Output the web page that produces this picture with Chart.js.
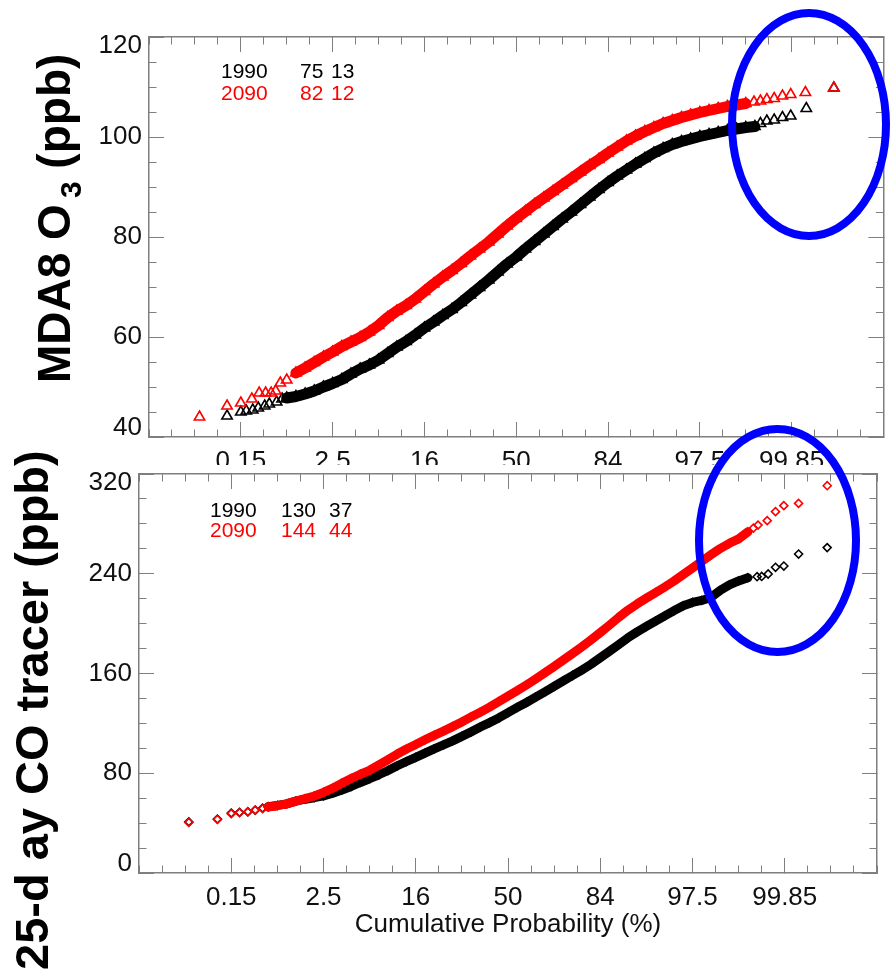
<!DOCTYPE html>
<html>
<head>
<meta charset="utf-8">
<script src="https://cdn.jsdelivr.net/npm/chart.js@4.4.1/dist/chart.umd.min.js"></script>
<style>
  html, body { margin: 0; padding: 0; background: #fff; }
  #wrap { position: relative; width: 891px; height: 969px; overflow: hidden; }
  #topChart, #bottomChart { position: absolute; left: 0; top: 0; }
</style>
</head>
<body>
<div id="wrap">
  <canvas id="topChart" width="891" height="465"></canvas>
  <canvas id="bottomChart" width="891" height="969"></canvas>
</div>
<script>
// x axis is in standard normal units, labelled as cumulative probability
const xTickSigma = [-3, -2, -1, 0, 1, 2, 3];
const xTickLabels = ['0.15', '2.5', '16', '50', '84', '97.5', '99.85'];
const o3Ticks = [40, 60, 80, 100, 120];
const coTicks = [0, 80, 160, 240, 320];

// MDA8 O3, 1990
const o3_1990_z = [-3.15, -3.00, -2.94, -2.87, -2.81, -2.74, -2.69, -2.61, -2.55,
  -2.5, -2.4, -2.3, -2.2, -2.1, -2.0, -1.9, -1.8, -1.7, -1.6, -1.5, -1.4, -1.3, -1.2, -1.1, -1.0,
  -0.9, -0.8, -0.7, -0.6, -0.5, -0.4, -0.3, -0.2, -0.1, 0.0, 0.1, 0.2, 0.3, 0.4, 0.5, 0.6,
  0.7, 0.8, 0.9, 1.0, 1.1, 1.2, 1.3, 1.4, 1.5, 1.6, 1.7, 1.8, 1.9, 2.0, 2.1, 2.2, 2.3, 2.4, 2.5, 2.6,
  2.66, 2.73, 2.81, 2.90, 2.99, 3.16, 3.46];
const o3_1990_ppb = [44.2, 45.0, 45.2, 45.4, 45.8, 46.2, 46.6, 47.0, 47.6,
  47.8, 48.1, 48.6, 49.2, 50.0, 50.7, 51.5, 52.6, 53.6, 54.4, 55.4, 56.7, 58.0, 59.1, 60.4, 61.8,
  63.0, 64.3, 65.5, 66.9, 68.4, 69.9, 71.4, 73.0, 74.6, 76.0, 77.6, 79.1, 80.6, 82.1, 83.6, 85.0,
  86.5, 88.0, 89.5, 90.9, 92.2, 93.4, 94.6, 95.7, 96.8, 97.7, 98.5, 99.1, 99.6, 100.1, 100.5, 100.9, 101.3, 101.6, 101.9, 102.1,
  102.7, 103.2, 103.4, 103.9, 104.2, 105.7, 109.8];

// MDA8 O3, 2090
const o3_2090_z = [-3.45, -3.15, -3.00, -2.88, -2.80, -2.73, -2.67, -2.62, -2.57, -2.50,
  -2.4, -2.3, -2.2, -2.1, -2.0, -1.9, -1.8, -1.7, -1.6, -1.5, -1.4, -1.3, -1.2, -1.1, -1.0,
  -0.9, -0.8, -0.7, -0.6, -0.5, -0.4, -0.3, -0.2, -0.1, 0.0, 0.1, 0.2, 0.3, 0.4, 0.5, 0.6,
  0.7, 0.8, 0.9, 1.0, 1.1, 1.2, 1.3, 1.4, 1.5, 1.6, 1.7, 1.8, 1.9, 2.0, 2.1, 2.2, 2.3, 2.4, 2.5,
  2.59, 2.66, 2.73, 2.81, 2.90, 2.99, 3.15, 3.46];
const o3_2090_ppb = [44.0, 46.2, 46.8, 47.6, 48.8, 48.8, 48.8, 49.2, 50.8, 51.4,
  52.8, 53.8, 54.9, 56.0, 57.0, 58.1, 59.0, 59.9, 61.0, 62.3, 63.9, 65.2, 66.3, 67.6, 69.1,
  70.6, 72.0, 73.3, 74.7, 76.2, 77.6, 79.0, 80.6, 82.2, 83.7, 85.1, 86.5, 87.8, 89.1, 90.4, 91.7,
  93.0, 94.3, 95.5, 96.8, 98.0, 99.2, 100.2, 101.1, 101.9, 102.7, 103.3, 103.9, 104.4, 104.9, 105.3, 105.7, 106.1, 106.4, 106.7,
  107.0, 107.2, 107.5, 107.7, 108.2, 108.5, 108.9, 109.8];

// 25-day CO tracer, 1990
const co_1990_z = [-3.46, -3.15, -3.00, -2.91, -2.82, -2.74, -2.66,
  -2.6, -2.5, -2.4, -2.3, -2.2, -2.1, -2.0, -1.9, -1.8, -1.7, -1.6, -1.5, -1.4, -1.3, -1.2, -1.1, -1.0,
  -0.9, -0.8, -0.7, -0.6, -0.5, -0.4, -0.3, -0.2, -0.1, 0.0, 0.1, 0.2, 0.3, 0.4, 0.5, 0.6,
  0.7, 0.8, 0.9, 1.0, 1.1, 1.2, 1.3, 1.4, 1.5, 1.6, 1.7, 1.8, 1.9, 2.0, 2.1, 2.2, 2.3, 2.4, 2.5, 2.6,
  2.70, 2.75, 2.82, 2.90, 2.99, 3.15, 3.46];
const co_1990_ppb = [41.0, 43.3, 48.1, 48.6, 49.0, 50.4, 52.0,
  53.2, 54.2, 55.4, 57.6, 59.2, 60.4, 61.8, 64.0, 66.6, 69.4, 72.6, 75.6, 78.8, 82.2, 86.0, 89.4, 92.8,
  96.2, 99.6, 102.8, 106.0, 109.6, 113.2, 117.0, 120.6, 124.4, 128.6, 132.8, 136.8, 141.0, 145.2, 149.6, 154.0,
  158.4, 162.8, 167.4, 172.6, 177.8, 183.2, 188.6, 193.4, 197.8, 202.0, 206.2, 210.4, 214.4, 217.0, 218.6, 221.0, 226.6, 231.0, 234.2, 236.8,
  237.6, 237.8, 239.8, 245.2, 246.2, 255.8, 261.0];

// 25-day CO tracer, 2090
const co_2090_z = [-3.46, -3.15, -3.00, -2.91, -2.82, -2.74, -2.66,
  -2.6, -2.5, -2.4, -2.3, -2.2, -2.1, -2.0, -1.9, -1.8, -1.7, -1.6, -1.5, -1.4, -1.3, -1.2, -1.1, -1.0,
  -0.9, -0.8, -0.7, -0.6, -0.5, -0.4, -0.3, -0.2, -0.1, 0.0, 0.1, 0.2, 0.3, 0.4, 0.5, 0.6,
  0.7, 0.8, 0.9, 1.0, 1.1, 1.2, 1.3, 1.4, 1.5, 1.6, 1.7, 1.8, 1.9, 2.0, 2.1, 2.2, 2.3, 2.4, 2.5, 2.6,
  2.66, 2.71, 2.81, 2.90, 2.99, 3.15, 3.46];
const co_2090_ppb = [40.6, 43.0, 47.6, 48.4, 49.2, 50.4, 51.6,
  53.0, 54.0, 55.4, 57.6, 59.6, 61.8, 64.6, 68.0, 72.0, 75.8, 79.2, 82.4, 86.6, 91.0, 95.4, 99.4, 103.0,
  106.8, 110.4, 113.8, 117.4, 121.2, 125.2, 129.0, 133.0, 137.4, 141.8, 146.2, 150.8, 155.6, 160.6, 165.6, 170.8,
  176.0, 181.4, 187.0, 192.8, 198.8, 205.0, 210.8, 215.8, 220.4, 224.8, 229.4, 234.2, 239.4, 244.6, 250.0, 255.2, 260.2, 264.4, 268.0, 273.6,
  276.6, 279.0, 282.6, 289.8, 294.6, 296.4, 310.6];

// mean and standard deviation printed in each panel
const years = ['1990', '2090'];
const o3Means = ['75', '82'];
const o3Sds = ['13', '12'];
const coMeans = ['130', '144'];
const coSds = ['37', '44'];

const FONT = "'Liberation Sans', Arial, Helvetica, sans-serif";
const FRAME = '#7f7f7f';
const BLACK = '#000000';
const RED = '#ff0000';

Chart.defaults.font.family = FONT;
Chart.defaults.animation = false;

function makeDataset(zs, vals, color, dense, style, radius, lineWidth, order) {
  return {
    data: zs.map((z, i) => ({ x: z, y: vals[i] })),
    showLine: true,
    borderColor: color,
    borderWidth: lineWidth,
    borderJoinStyle: 'round',
    borderCapStyle: 'round',
    segment: {
      borderColor: c => (c.p0.parsed.x >= dense[0] - 1e-6 && c.p1.parsed.x <= dense[1] + 1e-6) ? color : 'rgba(0,0,0,0)'
    },
    pointStyle: style,
    pointRadius: radius,
    pointBorderWidth: 1.6,
    pointBorderColor: color,
    pointBackgroundColor: 'rgba(0,0,0,0)',
    tension: 0,
    order: order
  };
}

// size: fixed thickness of the axis box (0 for the frame / minor tick axes)
function axis(position, min, max, tickLen, values, step, size) {
  const horizontal = position === 'top' || position === 'bottom';
  const a = {
    type: 'linear',
    position: position,
    min: min,
    max: max,
    weight: size ? 1 : 0,
    afterFit: s => {
      if (horizontal) s.height = size || 0; else s.width = size || 0;
      s.paddingTop = s.paddingBottom = s.paddingLeft = s.paddingRight = 0;
    },
    grid: { drawOnChartArea: false, drawTicks: true, tickLength: tickLen, color: FRAME, lineWidth: 1 },
    border: { display: false },
    ticks: { display: false, autoSkip: false, minRotation: 0, maxRotation: 0 }
  };
  if (values) a.afterBuildTicks = s => { s.ticks = values.map(v => ({ value: v })); };
  if (step) a.ticks.stepSize = step;
  return a;
}

function panelScales(p) {
  const x = axis('bottom', -4, 4, -15, xTickSigma, null, p.xSize);
  x.border = { display: true, color: FRAME, width: 1.5 };
  x.ticks = {
    display: true, autoSkip: false, minRotation: 0, maxRotation: 0, padding: 24,
    color: '#111', font: { size: 26 },
    callback: (v, i) => xTickLabels[i]
  };
  if (p.xTitle) {
    x.title = {
      display: true, text: p.xTitle, color: '#111',
      font: { size: 26 }, padding: { top: 0, bottom: 28.4 }
    };
  }
  const xt = axis('top', -4, 4, -15, xTickSigma);
  xt.border = { display: true, color: FRAME, width: 1.5 };

  const y = axis('left', p.yMin, p.yMax, -15, p.yTicks, null, p.ySize);
  y.border = { display: true, color: FRAME, width: 1.5 };
  y.ticks = {
    display: true, autoSkip: false, padding: 22, color: '#111',
    font: { size: 26, lineHeight: '18px' },
    // end labels sit a little inside the axis range
    callback: (v, i, t) => i === 0 ? [String(v), ''] : (i === t.length - 1 ? ['', String(v)] : String(v))
  };
  const yr = axis('right', p.yMin, p.yMax, -15, p.yTicks);
  yr.border = { display: true, color: FRAME, width: 1.5 };

  return {
    x: x,
    xMinor: axis('bottom', -4, 4, -7.5, null, 0.25),
    xTop: xt,
    xTopMinor: axis('top', -4, 4, -7.5, null, 0.25),
    y: y,
    yMinor: axis('left', p.yMin, p.yMax, -7.5, null, p.yStep),
    yRight: yr,
    yRightMinor: axis('right', p.yMin, p.yMax, -7.5, null, p.yStep)
  };
}

function extras(o) {
  return {
    id: 'extras',
    afterDraw(chart) {
      const ctx = chart.ctx;
      ctx.save();
      // rotated y title
      ctx.translate(o.titleX, o.titleY);
      ctx.rotate(-Math.PI / 2);
      ctx.fillStyle = '#000';
      ctx.textBaseline = 'alphabetic';
      ctx.textAlign = 'left';
      let pos = 0;
      o.title.forEach(part => {
        ctx.font = 'bold ' + part.size + 'px ' + FONT;
        ctx.fillText(part.text, pos + (part.gap || 0), part.shift || 0);
        pos += (part.gap || 0) + ctx.measureText(part.text).width;
      });
      ctx.restore();

      // year / mean / sd
      ctx.save();
      ctx.font = '21px ' + FONT;
      ctx.textBaseline = 'alphabetic';
      ctx.textAlign = 'left';
      [BLACK, RED].forEach((c, r) => {
        ctx.fillStyle = c;
        const row = [years[r], o.means[r], o.sds[r]];
        row.forEach((t, k) => ctx.fillText(t, o.statX[k], o.statY[r]));
      });
      ctx.restore();

      // highlight ellipse
      ctx.save();
      ctx.strokeStyle = '#0000ff';
      ctx.lineWidth = 8;
      ctx.beginPath();
      ctx.ellipse(o.ell[0], o.ell[1], o.ell[2], o.ell[3], 0, 0, Math.PI * 2);
      ctx.stroke();
      ctx.restore();
    }
  };
}

new Chart(document.getElementById('topChart'), {
  type: 'scatter',
  data: {
    datasets: [
      makeDataset(o3_1990_z, o3_1990_ppb, BLACK, [-2.5, 2.6], 'triangle', 6, 11, 1),
      makeDataset(o3_2090_z, o3_2090_ppb, RED, [-2.4, 2.5], 'triangle', 6, 11, 0)
    ]
  },
  options: {
    responsive: false,
    events: [],
    layout: { padding: { left: 0, right: 4, top: 37, bottom: 0 } },
    plugins: { legend: { display: false }, tooltip: { enabled: false } },
    scales: panelScales({ yMin: 40, yMax: 120, yTicks: o3Ticks, yStep: 5, xSize: 28, ySize: 149, xTitle: null })
  },
  plugins: [extras({
    titleX: 70, titleY: 383,
    title: [{ text: 'MDA8 O', size: 46 }, { text: '3', size: 30, gap: 6, shift: 11 }, { text: ' (ppb)', size: 46 }],
    means: o3Means, sds: o3Sds,
    statX: [221, 300, 331], statY: [78, 100],
    ell: [809, 124.5, 77, 111.5]
  })]
});

new Chart(document.getElementById('bottomChart'), {
  type: 'scatter',
  data: {
    datasets: [
      makeDataset(co_1990_z, co_1990_ppb, BLACK, [-2.6, 2.6], 'rectRot', 4, 9, 1),
      makeDataset(co_2090_z, co_2090_ppb, RED, [-2.6, 2.6], 'rectRot', 4, 9, 0)
    ]
  },
  options: {
    responsive: false,
    events: [],
    layout: { padding: { left: 0, right: 14, top: 474, bottom: 0 } },
    plugins: { legend: { display: false }, tooltip: { enabled: false } },
    scales: panelScales({ yMin: 0, yMax: 320, yTicks: coTicks, yStep: 20, xSize: 96, ySize: 139, xTitle: 'Cumulative Probability (%)' })
  },
  plugins: [extras({
    titleX: 48, titleY: 970,
    title: [{ text: '25-d ay CO tracer (ppb)', size: 47 }],
    means: coMeans, sds: coSds,
    statX: [210, 281, 329], statY: [517, 537],
    ell: [777.5, 540.5, 78.5, 111.5]
  })]
});
</script>
</body>
</html>
